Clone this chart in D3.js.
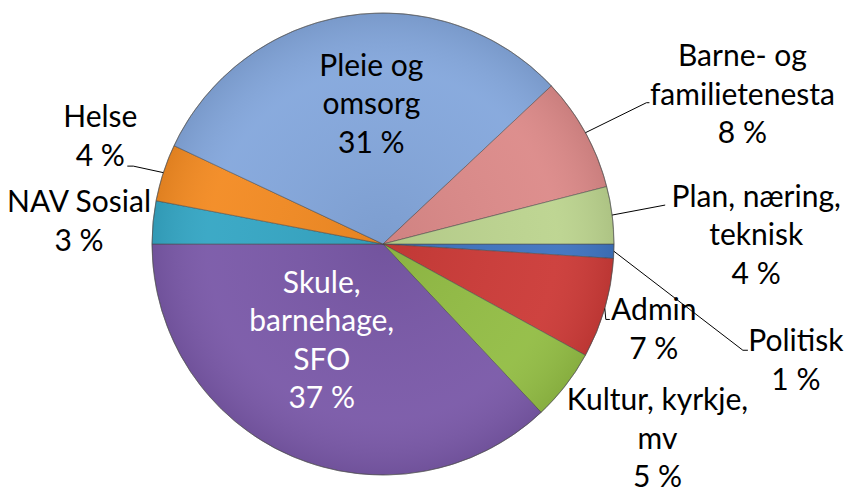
<!DOCTYPE html>
<html>
<head>
<meta charset="utf-8">
<script src="https://cdn.jsdelivr.net/npm/d3@7"></script>
<style>
  body { margin: 0; background: #fff; }
  text { font-family: Lato, "Noto Sans", sans-serif; }
</style>
</head>
<body>
<div id="container"></div>
<script>
//******************** DATA ********************//
// order clockwise, starting at 3 o'clock
const categories = ["Politisk", "Admin", "Kultur, kyrkje, mv", "Skule, barnehage, SFO",
                    "NAV Sosial", "Helse", "Pleie og omsorg", "Barne- og familietenesta",
                    "Plan, næring, teknisk"];
const values = [1, 7, 5, 37, 3, 4, 31, 8, 4];
const labelLines = [
    ["Politisk", "1 %"],
    ["Admin", "7 %"],
    ["Kultur, kyrkje,", "mv", "5 %"],
    ["Skule,", "barnehage,", "SFO", "37 %"],
    ["NAV Sosial", "3 %"],
    ["Helse", "4 %"],
    ["Pleie og", "omsorg", "31 %"],
    ["Barne- og", "familietenesta", "8 %"],
    ["Plan, næring,", "teknisk", "4 %"]
];
const colors = ["#3f74c0", "#cc3b38", "#93bd45", "#7a59a8", "#35a6c4",
                "#f38b23", "#84a7dc", "#dc8a89", "#bcd48f"];

//******************** LAYOUT ********************//
const width = 845;
const height = 493;
const cx = 383, cy = 244, radius = 231;
const fontSize = 30, lineH = 38.5;

// label placement: inside (fraction of radius) or offset from rim point
const labelCfg = [
    { dx: 182, dy: 109, lead: [-53, -10], tick: 5 },
    { dx: 49, dy: 21, lead: [-48, -10], tick: 4 },
    { dx: 92, dy: 53 },
    { inside: 0.45, dx: -20, dy: 1, color: "#fff" },
    { dx: -74, dy: -1 },
    { dx: -63, dy: -36, lead: [33, 29.5], tick: -6 },
    { inside: 0.6, dx: 10, dy: -3 },
    { dx: 157, dy: -38, lead: [-96, 8], tick: 3 },
    { dx: 144, dy: 20, lead: [-91, -30], tick: 0 }
];

const svg = d3.select("#container")
    .append("svg")
    .attr("width", width)
    .attr("height", height);

const pie = d3.pie()
    .sort(null)
    .startAngle(Math.PI / 2)
    .endAngle(Math.PI / 2 + 2 * Math.PI);

const arcs = pie(values);
const arc = d3.arc().innerRadius(0).outerRadius(radius);

const g = svg.append("g").attr("transform", `translate(${cx},${cy})`);

//---------- SLICES ----------//
g.selectAll("path.slice")
    .data(arcs)
    .join("path")
    .attr("class", "slice")
    .attr("d", arc)
    .attr("fill", (d, i) => colors[i])
    .attr("stroke", "#4a4a4a")
    .attr("stroke-opacity", 0.55)
    .attr("stroke-width", 1);

// soft shading like the office style
const defs = svg.append("defs");
const grad = defs.append("radialGradient").attr("id", "shade");
grad.append("stop").attr("offset", "0%").attr("stop-color", "#000").attr("stop-opacity", 0.06);
grad.append("stop").attr("offset", "75%").attr("stop-color", "#fff").attr("stop-opacity", 0.04);
grad.append("stop").attr("offset", "100%").attr("stop-color", "#000").attr("stop-opacity", 0.08);
g.append("circle").attr("r", radius).attr("fill", "url(#shade)")
    .attr("stroke", "#555").attr("stroke-opacity", 0.5);

//---------- LABELS ----------//
function rimPoint(d, r) {
    const a = (d.startAngle + d.endAngle) / 2;
    return [r * Math.sin(a), -r * Math.cos(a)];
}

arcs.forEach((d, i) => {
    const cfg = labelCfg[i];
    const lines = labelLines[i];
    let p;
    if (cfg.inside) {
        p = rimPoint(d, radius * cfg.inside);
    } else {
        p = rimPoint(d, radius);
    }
    const lx = p[0] + cfg.dx, ly = p[1] + cfg.dy;

    if (cfg.lead) {
        const s = rimPoint(d, radius);
        const ex = lx + cfg.lead[0], ey = ly + cfg.lead[1];
        g.append("path")
            .attr("d", d3.line()([s, [ex, ey], [ex + cfg.tick, ey]]))
            .attr("fill", "none")
            .attr("stroke", "#000")
            .attr("stroke-width", 1);
    }

    const t = g.append("text")
        .attr("text-anchor", "middle")
        .attr("font-size", fontSize)
        .attr("fill", cfg.color || "#000");
    lines.forEach((s, k) => {
        t.append("tspan")
            .attr("x", lx)
            .attr("y", ly + (k - (lines.length - 1) / 2) * lineH + 10)
            .text(s);
    });
});
</script>
</body>
</html>
